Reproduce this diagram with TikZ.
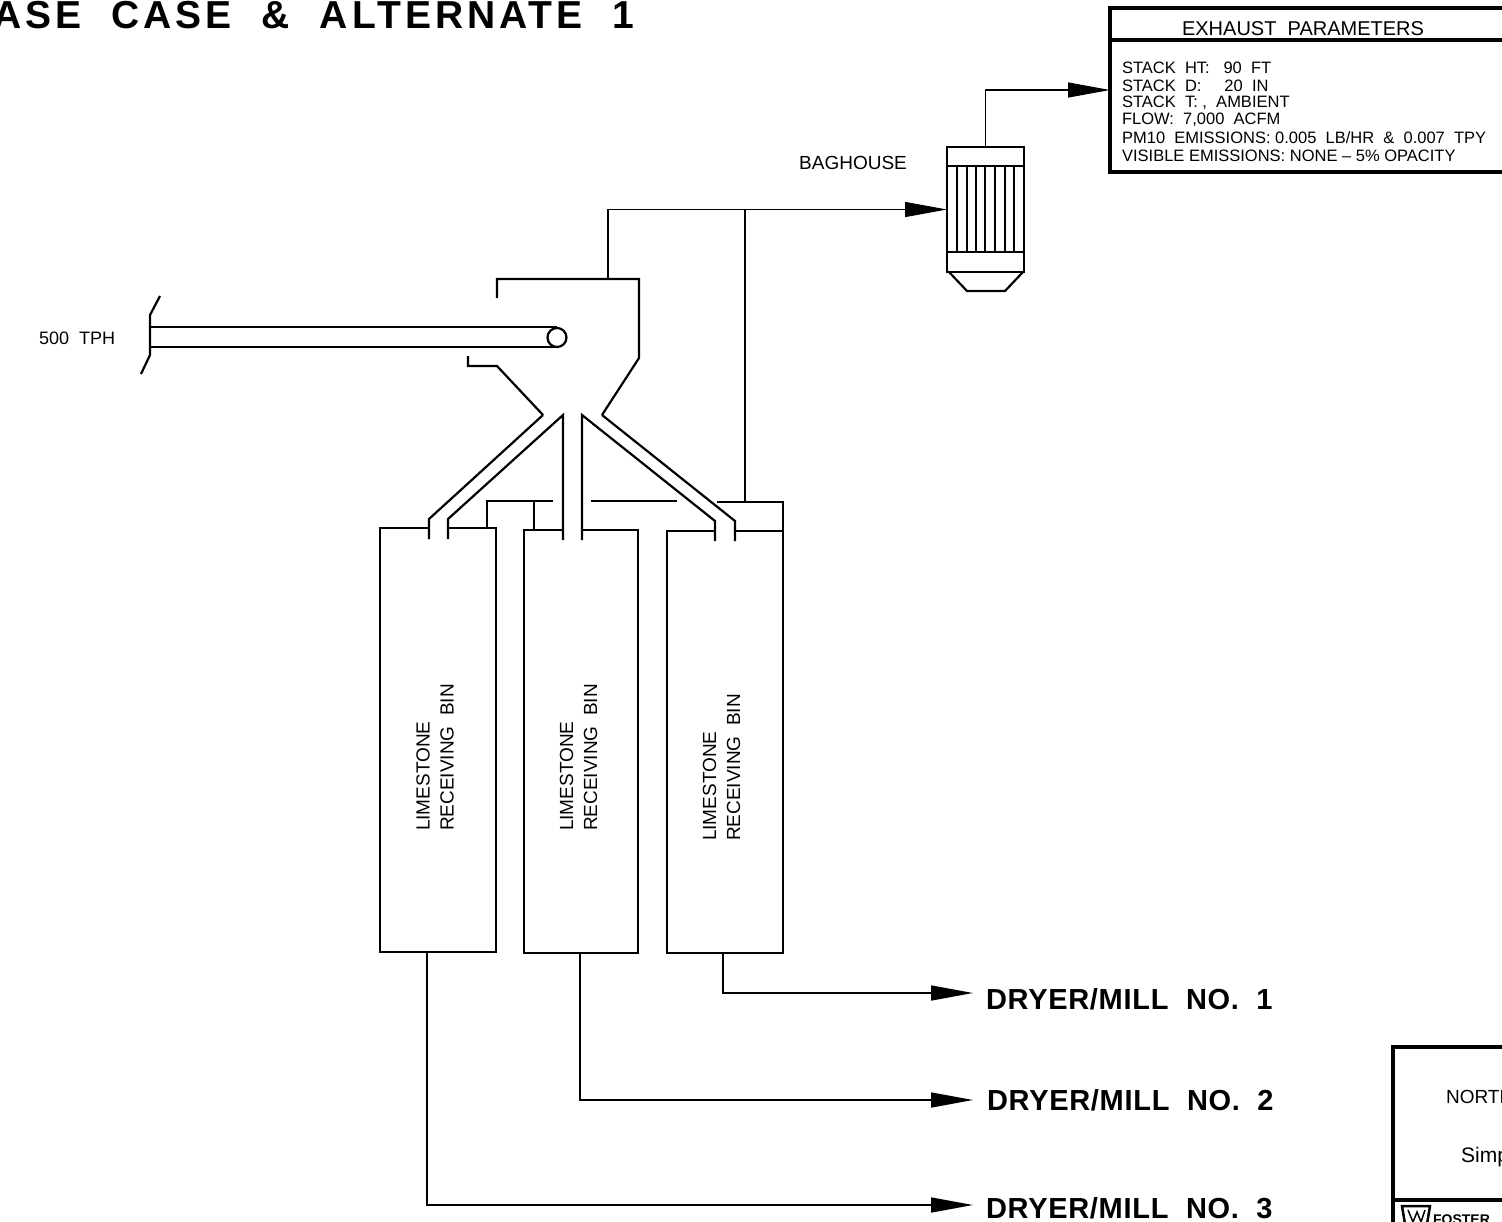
\documentclass[tikz,border=0pt]{standalone}
\usepackage{fontspec}
\setmainfont{Liberation Sans}
\usetikzlibrary{arrows.meta}

\tikzset{
  flow/.style={line width=1.2pt,-{Triangle[length=42pt,width=15pt]}},
  duct/.style={line width=1.2pt},
  wall/.style={line width=2.2pt},
  binbox/.style={draw,line width=2.2pt,inner sep=0pt,outer sep=0pt},
  binlabel/.style={rotate=90,anchor=west,align=left,inner sep=0pt,font=\fontsize{19}{24}\selectfont},
  parline/.style={anchor=base west,inner sep=0pt,font=\fontsize{16.5}{18}\selectfont},
  dryerlabel/.style={anchor=west,inner sep=0pt,font=\fontsize{29}{30}\selectfont\bfseries\addfontfeature{LetterSpace=2.4}}
}

\begin{document}
\begin{tikzpicture}[x=1pt,y=-1pt,line width=2.2pt]
  \useasboundingbox (0,0) rectangle (1502,1221);
  \clip (0,0) rectangle (1502,1221);
  % title
  \node[anchor=base west,inner sep=0pt,font=\fontsize{39}{40}\selectfont\bfseries\addfontfeature{LetterSpace=10.5}] (title) at (-8,28) {ASE\ \ CASE\ \ \&\ \ ALTERNATE\ \ 1};
  % exhaust box
  \node[draw,line width=4pt,inner sep=0pt,outer sep=0pt,minimum width=460pt,minimum height=164pt] (exhaust) at (1340,90) {};
  \draw[line width=4pt] (1110,40) -- (1502,40);
  \node[anchor=base,inner sep=0pt,font=\fontsize{20}{22}\selectfont] (extitle) at (1303,35) {EXHAUST\ \ PARAMETERS};
  \node[parline] (par1) at (1121,73) {STACK\ \ HT:\ \ \ 90\ \ FT};
  \node[parline] (par2) at (1121,91) {STACK\ \ D:\ \ \ \ \ 20\ \ IN};
  \node[parline] (par3) at (1121,107) {STACK\ \ T:\ ,\ \ AMBIENT};
  \node[parline] (par4) at (1121,124) {FLOW:\ \ 7,000\ \ ACFM};
  \node[parline] (par5) at (1121,143) {PM10\ \ EMISSIONS:\ 0.005\ \ LB/HR\ \ \&\ \ 0.007\ \ TPY};
  \node[parline] (par6) at (1121,161) {VISIBLE EMISSIONS: NONE -- 5\% OPACITY};
  % baghouse
  \node[binbox,minimum width=77pt,minimum height=125pt] (baghouse) at (985.5,209.5) {};
  \draw (947,166) -- (1024,166);
  \draw (947,252) -- (1024,252);
  \foreach \tubex in {957,967,976,985,995,1005,1014}
    \draw (\tubex,166) -- (\tubex,252);
  \draw (949,272) -- (967,291) -- (1005,291) -- (1023,272);
  \node[anchor=east,inner sep=0pt,font=\fontsize{19}{20}\selectfont] (baglabel) at (908,163) {BAGHOUSE};
  % bins
  \node[binbox,minimum width=116pt,minimum height=424pt] (bin1) at (438,740) {};
  \node[binbox,minimum width=114pt,minimum height=423pt] (bin2) at (581,741.5) {};
  \node[binbox,minimum width=116pt,minimum height=422pt] (bin3) at (725,742) {};
  \node[binlabel] (lab1) at (435,832) {LIMESTONE\\RECEIVING\ \ BIN};
  \node[binlabel] (lab2) at (578.5,832) {LIMESTONE\\RECEIVING\ \ BIN};
  \node[binlabel] (lab3) at (721.5,842) {LIMESTONE\\RECEIVING\ \ BIN};
  % vent lines on top of the bins
  \draw[duct] (487,528) -- (487,501) -- (553,501);
  \draw[duct] (534,501) -- (534,530);
  \draw[duct] (591,501) -- (677,501);
  \draw[duct] (717,502) -- (783,502) -- (783,531);
  % chutes
  \fill[white] (543,415) -- (429,519) -- (429,539) -- (448,539) -- (448,519) -- (563,415) -- cycle;
  \fill[white] (563,415) rectangle (582,540);
  \fill[white] (602,415) -- (735,521) -- (735,541) -- (715,541) -- (715,521) -- (582,415) -- cycle;
  \draw[wall] (429,539) -- (429,519) -- (543,415);
  \draw[wall] (448,539) -- (448,519) -- (563,415) -- (563,540);
  \draw[wall] (582,540) -- (582,415) -- (715,521) -- (715,541);
  \draw[wall] (735,541) -- (735,521) -- (602,415);
  % hopper
  \draw[wall] (497,298) -- (497,279) -- (639,279) -- (639,358) -- (602,415);
  \draw[wall] (468,356) -- (468,366) -- (497,366) -- (543,415);
  % conveyor
  \draw[wall] (160,296) -- (150,315) -- (150,355) -- (141,374);
  \draw[wall] (150,327) -- (557,327);
  \draw[wall] (150,347) -- (557,347);
  \draw[wall,fill=white] (557,337.5) circle (9.5);
  \node[anchor=west,inner sep=0pt,font=\fontsize{18}{19}\selectfont] (tph) at (38,338) {500\ \ TPH};
  % connectors
  \coordinate (hoodtop) at (608,279);
  \coordinate (ventdrop) at (745,502);
  \draw[flow] (hoodtop) |- (baghouse.west);
  \draw[duct] (ventdrop) -- (ventdrop |- baghouse.west);
  \draw[flow] (baghouse.north) |- (exhaust.west);
  \coordinate (out1) at (427,952);
  \coordinate (out2) at (580,953);
  \coordinate (out3) at (723,953);
  \coordinate (tip1) at (973,993);
  \coordinate (tip2) at (973,1100);
  \coordinate (tip3) at (973,1205);
  \draw[flow,line width=1.6pt] (out3) |- (tip1);
  \draw[flow,line width=1.6pt] (out2) |- (tip2);
  \draw[flow,line width=1.6pt] (out1) |- (tip3);
  \node[dryerlabel] (dryer1) at (985,999) {DRYER/MILL\ \ NO.\ \ 1};
  \node[dryerlabel] (dryer2) at (986,1100) {DRYER/MILL\ \ NO.\ \ 2};
  \node[dryerlabel] (dryer3) at (985,1208) {DRYER/MILL\ \ NO.\ \ 3};
  % title block
  \draw[line width=4pt] (1393,1300) -- (1393,1047) -- (1510,1047);
  \draw[line width=4pt] (1393,1200) -- (1510,1200);
  \node[anchor=west,inner sep=0pt,font=\fontsize{19}{22}\selectfont] (north) at (1445,1097) {NORTH};
  \node[anchor=west,inner sep=0pt,font=\fontsize{21}{22}\selectfont] (simp) at (1460,1157) {Simp};
  \draw[line width=2.5pt] (1402,1206) -- (1430,1206) -- (1426,1230) -- (1406,1230) -- cycle;
  \draw[line width=1.5pt] (1408,1210) -- (1413,1222) -- (1417,1212) -- (1421,1222) -- (1425,1210);
  \node[anchor=base west,inner sep=0pt,font=\fontsize{14}{15}\selectfont\bfseries] (foster) at (1432,1224) {FOSTER};
\end{tikzpicture}
\end{document}
